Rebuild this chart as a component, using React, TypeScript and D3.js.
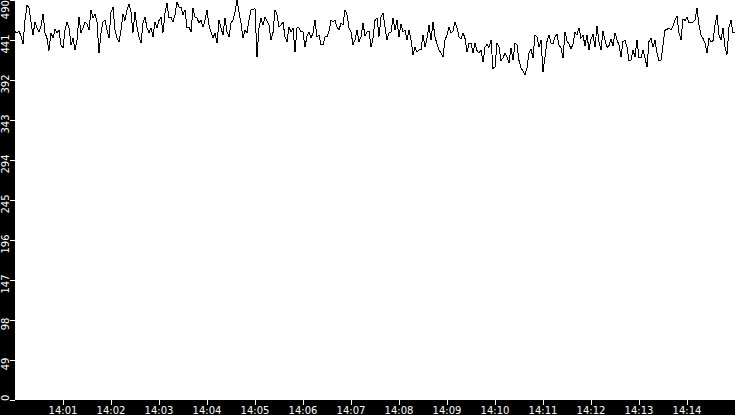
import React from 'react';
import * as d3 from 'd3';

// Sampled values (one every 2.5 s, 14:00:00 → 14:15:00)
const part1 = [451,450,452,446,436,465,484,480,463,447,463,456,451,458,473,450,443,428,450,443,454,450,453,435,431,453,463,456,435,443,429,441,469,450,456,463,461,453,478,468,473,463,425,450,463,465,453,443,475,481,453,443,439,453,473,465,478,485,475,450];
const part2 = [475,457,445,437,462,469,456,450,456,445,463,456,465,469,450,474,486,468,469,463,472,488,481,481,472,478,456,457,451,480,469,468,462,465,457,465,478,459,451,443,450,437,465,456,447,468,451,445,462,465,475,490,475,462,443,453,450,465,478,478];
const part3 = [480,420,456,468,459,469,464,459,441,450,478,472,457,459,463,445,439,457,451,456,426,456,456,451,451,432,446,451,443,450,465,445,447,435,435,445,445,452,465,463,465,457,453,462,459,478,472,456,451,435,441,453,439,445,462,446,451,452,432,443];
const part4 = [465,468,445,469,474,457,441,450,450,468,453,465,445,461,451,453,441,453,441,423,432,426,429,429,447,432,443,459,441,463,445,436,429,425,420,441,447,457,450,452,463,456,445,442,450,443,426,437,437,425,437,428,425,429,414,432,436,432,441,406];
const part5 = [408,437,432,416,419,425,420,413,431,416,437,435,416,407,403,398,407,425,430,419,447,445,432,441,402,420,439,447,437,436,445,448,435,431,419,451,440,436,430,436,450,447,456,443,447,434,447,429,442,448,432,458,439,429,452,441,432,434,442,434];
const part6 = [450,441,435,420,439,441,432,416,416,429,420,441,419,419,429,419,408,439,443,432,441,425,416,416,435,453,454,456,453,458,465,470,450,441,467,465,469,462,462,463,465,480,459,447,443,437,425,443,439,440,459,472,447,441,456,432,423,457,465,450,450];

const values = [...part1, ...part2, ...part3, ...part4, ...part5, ...part6];
const startTime = new Date(2024, 0, 1, 14, 0, 0);
const endTime = new Date(2024, 0, 1, 14, 15, 0);
const stepMs = 2500;
const yTickValues = [0, 49, 98, 147, 196, 245, 294, 343, 392, 441, 490];
const xTickMinutes = [1, 2, 3, 4, 5, 6, 7, 8, 9, 10, 11, 12, 13, 14];

const W = 735;
const H = 415;
const left = 15;
const plotBottom = 400;

export default function App() {
  const x = d3.scaleTime().domain([startTime, endTime]).range([left, W]);
  const y = d3.scaleLinear().domain([0, 490]).range([plotBottom, 0]);
  const data = values.map((v, i) => ({ t: new Date(startTime.getTime() + i * stepMs), v }));
  const line = d3
    .line<{ t: Date; v: number }>()
    .x((d) => x(d.t))
    .y((d) => y(d.v));
  const fmt = d3.timeFormat('%H:%M');
  const xTicks = xTickMinutes.map((m) => new Date(2024, 0, 1, 14, m, 0));
  const font = { fontFamily: '"DejaVu Sans", sans-serif', fontSize: 10 };

  return (
    <div style={{ position: 'fixed', left: 0, top: 0 }}>
      <svg width={W} height={H} style={{ display: 'block' }}>
        <rect x={0} y={0} width={W} height={H} fill="#000" />
        <rect x={left} y={0} width={W - left} height={plotBottom} fill="#fff" />
        <path d={line(data) || ''} fill="none" stroke="#000" strokeWidth={1} shapeRendering="crispEdges" />
        {yTickValues.map((v) => {
          const ty = Math.round(y(v)) + 0.5;
          const w = String(v).length * 6.4;
          const cy = Math.max(w / 2, Math.min(401 - w / 2, y(v) + 4));
          return (
            <g key={v}>
              <line x1={10} x2={15} y1={ty} y2={ty} stroke="#fff" shapeRendering="crispEdges" />
              <text
                transform={`translate(9,${cy}) rotate(-90)`}
                textAnchor="middle"
                fill="#fff"
                style={font}
              >
                {v}
              </text>
            </g>
          );
        })}
        {xTicks.map((t) => {
          const tx = Math.round(x(t)) + 0.5;
          return (
            <g key={t.getTime()}>
              <line x1={tx} x2={tx} y1={400} y2={405} stroke="#fff" shapeRendering="crispEdges" />
              <text x={x(t)} y={414} textAnchor="middle" fill="#fff" style={font}>
                {fmt(t)}
              </text>
            </g>
          );
        })}
      </svg>
    </div>
  );
}
